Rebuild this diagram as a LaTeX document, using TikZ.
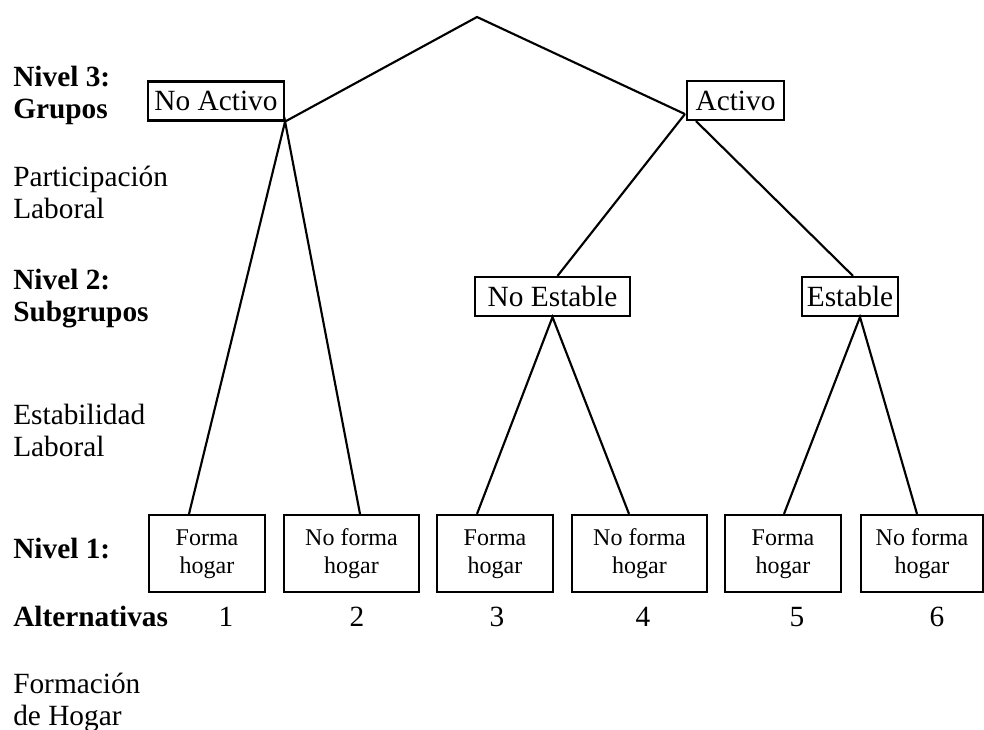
\documentclass[tikz,border=0pt]{standalone}
\usepackage{fontspec}
\setmainfont{Liberation Serif}
\usetikzlibrary{calc}
\begin{document}
\begin{tikzpicture}[x=0.75pt,y=-0.75pt,
  box/.style={draw,line width=1.6pt,inner sep=0pt,minimum height=39*0.75pt,font=\fontsize{22}{24}\selectfont},
  leaf/.style={draw,line width=1.6pt,inner sep=0pt,align=center,minimum height=77*0.75pt,font=\fontsize{18}{21}\selectfont},
  edge/.style={line width=1.6pt},
  lab/.style={anchor=base west,inner sep=0pt,align=left,font=\fontsize{22}{24}\selectfont},
  blab/.style={lab,font=\fontsize{22}{24.5}\selectfont\bfseries},
  num/.style={anchor=base,inner sep=0pt,font=\fontsize{22}{24}\selectfont}]
\useasboundingbox (0,0) rectangle (984,730);

% level 3
\node[box,minimum width=136*0.75pt] (NoActivo) at (216,101) {No Activo};
\node[box,minimum width=97*0.75pt] (Activo) at (735.5,100.5) {Activo};
% level 2
\node[box,minimum width=155*0.75pt] (NoEstable) at (552.5,296.5) {No Estable};
\node[box,minimum width=96*0.75pt] (Estable) at (850,296.5) {Estable};
% level 1
\node[leaf,minimum width=116*0.75pt] (L1) at (207,553.5) {Forma\strut\\hogar\strut};
\node[leaf,minimum width=135*0.75pt] (L2) at (351.5,553.5) {No forma\strut\\hogar\strut};
\node[leaf,minimum width=116*0.75pt] (L3) at (495,553.5) {Forma\strut\\hogar\strut};
\node[leaf,minimum width=135*0.75pt] (L4) at (639.5,553.5) {No forma\strut\\hogar\strut};
\node[leaf,minimum width=116*0.75pt] (L5) at (783,553.5) {Forma\strut\\hogar\strut};
\node[leaf,minimum width=122*0.75pt] (L6) at (922,553.5) {No forma\strut\\hogar\strut};

% numbers
\node[num] (n1) at (226,626) {1};
\node[num] (n2) at (357,626) {2};
\node[num] (n3) at (497,626) {3};
\node[num] (n4) at (643,626) {4};
\node[num] (n5) at (797,626) {5};
\node[num] (n6) at (937,626) {6};

% joints
\coordinate (apex) at (477,17);
\coordinate (ActL) at ($(Activo.south west)+(-1,-7)$);
\coordinate (ActR) at ($(Activo.south west)+(10,0)$);
\coordinate (NEt) at ($(NoEstable.north)+(5,0)$);
\coordinate (Et) at ($(Estable.north)+(3,0)$);
\coordinate (Eb) at ($(Estable.south)+(10,0)$);
\coordinate (t1) at ($(L1.north)+(-18,0)$);
\coordinate (t2) at ($(L2.north)+(8.5,0)$);
\coordinate (t3) at ($(L3.north)+(-18,0)$);
\coordinate (t4) at ($(L4.north)+(-10.5,0)$);
\coordinate (t5) at ($(L5.north)+(1,0)$);
\coordinate (t6) at ($(L6.north)+(-5,0)$);

% connectors
\draw[edge] (NoActivo.south east) -- (apex) -- (ActL);
\draw[edge] (ActL) -- (NEt);
\draw[edge] (ActR) -- (Et);
\draw[edge] (t1) -- (NoActivo.south east) -- (t2);
\draw[edge] (t3) -- (NoEstable.south) -- (t4);
\draw[edge] (t5) -- (Eb) -- (t6);

% left labels (base anchor = last line's baseline)
\node[blab] (lv3) at (13,119) {Nivel 3:\\Grupos};
\node[lab] (pl) at (13,219) {Participación\\Laboral};
\node[blab] (lv2) at (13,322) {Nivel 2:\\Subgrupos};
\node[lab] (el) at (13,456) {Estabilidad\\Laboral};
\node[blab] (lv1) at (13,558) {Nivel 1:};
\node[blab] (alt) at (13,626) {Alternativas};
\node[lab] (fh) at (13,725) {Formación\\de Hogar};
\end{tikzpicture}
\end{document}
